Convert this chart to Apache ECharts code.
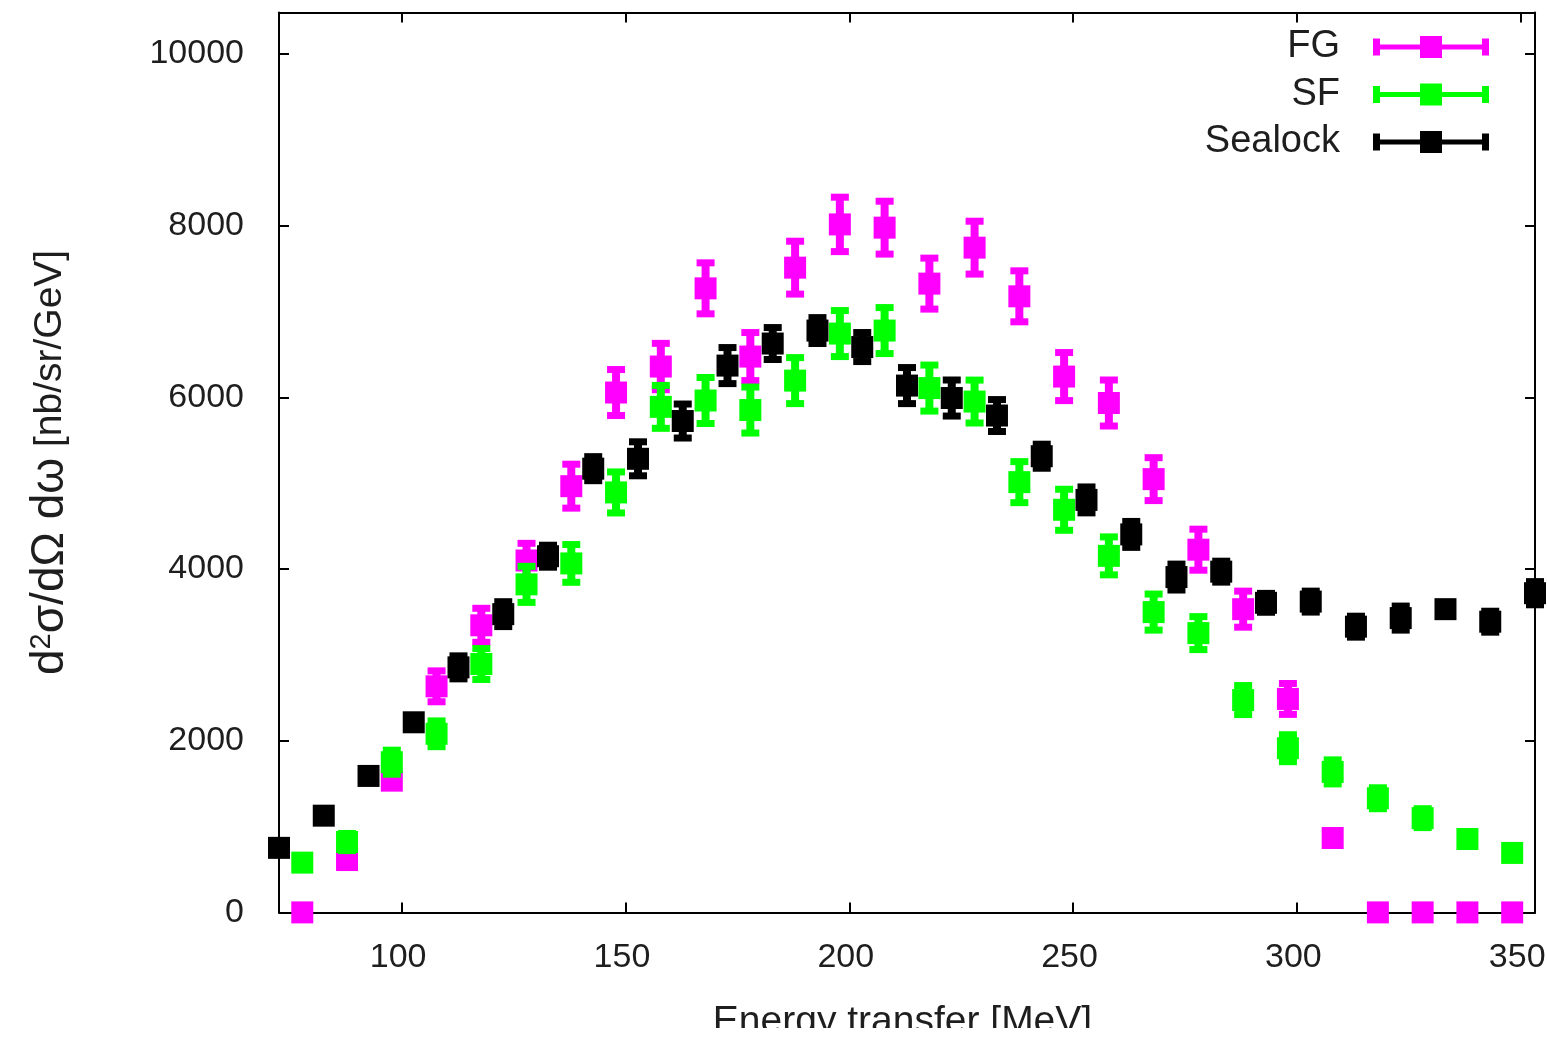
<!DOCTYPE html>
<html>
<head>
<meta charset="utf-8">
<script src="https://cdn.jsdelivr.net/npm/echarts@6/dist/echarts.min.js"></script>
<style>
html,body{margin:0;padding:0;background:#fff;}
#chart{width:1547px;height:1040px;}
</style>
</head>
<body>
<div id="chart"></div>
<script>
// ---- data ----
const fgX = [77.8, 87.8, 97.8, 107.8, 117.8, 127.9, 137.9, 147.9, 157.9, 167.9, 177.9, 187.9, 197.9, 207.9, 217.9, 228.0, 238.0, 248.0, 258.0, 268.0, 278.0, 288.0, 298.0, 308.0, 318.1, 328.1, 338.1, 348.1];
const fgY = [0, 610, 1535, 2634, 3345, 4100, 4966, 6057, 6360, 7271, 6476, 7512, 8016, 7978, 7326, 7745, 7178, 6243, 5935, 5048, 4226, 3533, 2487, 867, 0, 0, 0, 0];
const fgErr = [0, 50, 80, 180, 198, 200, 256, 268, 270, 297, 280, 308, 317, 308, 297, 308, 297, 280, 268, 250, 239, 210, 180, 50, 0, 0, 0, 0];

const sfX = [77.8, 87.8, 97.8, 107.8, 117.8, 127.9, 137.9, 147.9, 157.9, 167.9, 177.9, 187.9, 197.9, 207.9, 217.9, 228.0, 238.0, 248.0, 258.0, 268.0, 278.0, 288.0, 298.0, 308.0, 318.1, 328.1, 338.1, 348.1];
const sfY = [580, 820, 1750, 2081, 2894, 3822, 4066, 4893, 5890, 5964, 5853, 6196, 6744, 6779, 6109, 5952, 5013, 4691, 4154, 3499, 3254, 2474, 1913, 1637, 1330, 1098, 855, 693];
const sfErr = [40, 100, 140, 150, 180, 210, 220, 239, 250, 268, 268, 268, 268, 268, 268, 250, 239, 239, 221, 210, 192, 169, 157, 140, 122, 110, 80, 50];

const sealX = [72.6, 82.6, 92.6, 102.7, 112.7, 122.7, 132.7, 142.8, 152.8, 162.8, 172.8, 182.9, 192.9, 202.9, 212.9, 222.9, 233.0, 243.0, 253.0, 263.0, 273.1, 283.1, 293.1, 303.1, 313.2, 323.2, 333.2, 343.2, 353.2];
const sealY = [752, 1127, 1590, 2215, 2855, 3475, 4150, 5170, 5285, 5725, 6371, 6628, 6779, 6587, 6138, 5993, 5789, 5315, 4806, 4404, 3907, 3970, 3607, 3621, 3329, 3429, 3533, 3387, 3719];
const sealErr = [50, 50, 50, 70, 134, 145, 128, 140, 198, 198, 210, 186, 151, 169, 210, 210, 186, 140, 151, 151, 151, 122, 110, 122, 122, 140, 60, 122, 135];

const xTicks = [100, 150, 200, 250, 300, 350];
const yTicks = [0, 2000, 4000, 6000, 8000, 10000];
const seriesNames = ['FG', 'SF', 'Sealock'];
const seriesColors = ['#ff00ff', '#00ff00', '#000000'];

const X_MIN = 72.6, X_MAX = 353.2, Y_MIN = 0, Y_MAX = 10486;
const FONT = '"Liberation Sans", Arial, sans-serif';
const TXT = '#1e1e1e';

function zip(xs, ys, es) { return xs.map((x, i) => [x, ys[i], es[i]]); }

function makeRender(color) {
  return function (params, api) {
    const x = api.value(0), y = api.value(1), e = api.value(2);
    const c = api.coord([x, y]);
    const children = [];
    if (e > 0) {
      const top = api.coord([x, y + e])[1];
      const bot = api.coord([x, y - e])[1];
      children.push({ type: 'rect', shape: { x: c[0] - 4, y: top, width: 8, height: bot - top }, style: { fill: color } });
      children.push({ type: 'rect', shape: { x: c[0] - 9, y: top - 3.5, width: 18, height: 7 }, style: { fill: color } });
      children.push({ type: 'rect', shape: { x: c[0] - 9, y: bot - 3.5, width: 18, height: 7 }, style: { fill: color } });
    }
    children.push({ type: 'rect', shape: { x: c[0] - 11, y: c[1] - 11, width: 22, height: 22 }, style: { fill: color } });
    return { type: 'group', children: children };
  };
}

const datasets = [zip(fgX, fgY, fgErr), zip(sfX, sfY, sfErr), zip(sealX, sealY, sealErr)];

const chart = echarts.init(document.getElementById('chart'), null, { renderer: 'canvas' });

const axisLineStyle = { color: '#000', width: 2 };
const plainNum = function (v) { return String(Math.round(v)); };
const option = {
  animation: false,
  backgroundColor: '#ffffff',
  grid: { left: 279, right: 12, top: 12.4, bottom: 127.6, containLabel: false, outerBoundsMode: 'none' },
  legend: {
    orient: 'vertical',
    align: 'right',
    right: 58,
    top: 25,
    padding: 0,
    itemGap: 3.5,
    itemWidth: 116,
    itemHeight: 22,
    icon: 'path://M0,2.5H7V8.5H47V0H69V8.5H109V2.5H116V19.5H109V13.5H69V22H47V13.5H7V19.5H0Z',
    itemStyle: { borderWidth: 0 },
    textStyle: { fontSize: 38, fontFamily: FONT, color: TXT, lineHeight: 38, padding: [0, 28, 6, 0] },
    data: seriesNames
  },
  xAxis: [
    {
      type: 'value', min: X_MIN, max: X_MAX, position: 'bottom',
      name: 'Energy transfer [MeV]', nameLocation: 'middle', nameGap: 90,
      nameTextStyle: { fontSize: 39, fontFamily: FONT, color: TXT, padding: [0, 9, 0, 0] },
      axisLine: { show: true, onZero: false, lineStyle: axisLineStyle },
      axisTick: { show: true, inside: true, length: 10, customValues: xTicks, lineStyle: { color: '#000', width: 2 } },
      axisLabel: { show: true, customValues: xTicks, formatter: plainNum, fontSize: 34, fontFamily: FONT, color: TXT, margin: 28, padding: [0, 7, 0, 0] },
      splitLine: { show: false }
    },
    {
      type: 'value', min: X_MIN, max: X_MAX, position: 'top',
      axisLine: { show: true, onZero: false, lineStyle: axisLineStyle },
      axisTick: { show: true, inside: true, length: 10, customValues: xTicks, lineStyle: { color: '#000', width: 2 } },
      axisLabel: { show: false },
      splitLine: { show: false }
    }
  ],
  yAxis: [
    {
      type: 'value', min: Y_MIN, max: Y_MAX, position: 'left',
      name: '{a|d}{s|2}{a|σ/dΩ dω}{b| [nb/sr/GeV]}', nameLocation: 'middle', nameGap: 206,
      nameTextStyle: {
        fontFamily: FONT, color: TXT,
        rich: {
          a: { fontSize: 46, fontFamily: FONT, color: TXT, lineHeight: 46 },
          s: { fontSize: 29, fontFamily: FONT, color: TXT, verticalAlign: 'top', lineHeight: 46 },
          b: { fontSize: 39, fontFamily: FONT, color: TXT, lineHeight: 46 }
        }
      },
      axisLine: { show: true, onZero: false, lineStyle: axisLineStyle },
      axisTick: { show: true, inside: true, length: 10, customValues: yTicks, lineStyle: { color: '#000', width: 2 } },
      axisLabel: { show: true, customValues: yTicks, formatter: plainNum, fontSize: 34, fontFamily: FONT, color: TXT, margin: 35 },
      splitLine: { show: false }
    },
    {
      type: 'value', min: Y_MIN, max: Y_MAX, position: 'right',
      axisLine: { show: true, onZero: false, lineStyle: axisLineStyle },
      axisTick: { show: true, inside: true, length: 10, customValues: yTicks, lineStyle: { color: '#000', width: 2 } },
      axisLabel: { show: false },
      splitLine: { show: false }
    }
  ],
  series: seriesNames.map((name, i) => ({
    type: 'custom',
    name: name,
    xAxisIndex: 0,
    yAxisIndex: 0,
    clip: false,
    itemStyle: { color: seriesColors[i] },
    renderItem: makeRender(seriesColors[i]),
    encode: { x: 0, y: 1 },
    data: datasets[i],
    z: 2 + i
  })),
  graphic: [
    { type: 'rect', left: 0, top: 1028, shape: { width: 1547, height: 12 }, style: { fill: '#ffffff' }, z: 100, silent: true }
  ]
};
chart.setOption(option);
</script>
</body>
</html>
